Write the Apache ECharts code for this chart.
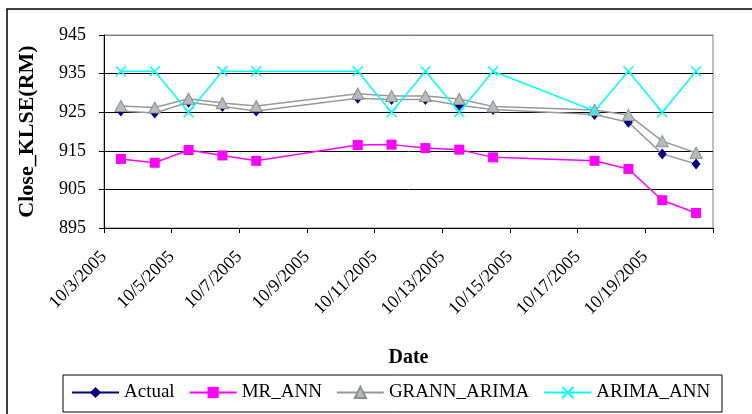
<!DOCTYPE html>
<html><head><meta charset="utf-8">
<script src="https://cdn.jsdelivr.net/npm/echarts@6/dist/echarts.min.js"></script>
<style>html,body{margin:0;padding:0;background:#fff}#c{width:752px;height:414px}</style>
</head><body><div id="c"></div>
<script>
const dates = ['2005-10-03','2005-10-04','2005-10-05','2005-10-06','2005-10-07',
  '2005-10-10','2005-10-11','2005-10-12','2005-10-13','2005-10-14',
  '2005-10-17','2005-10-18','2005-10-19','2005-10-20'];
const tickLabels = ['10/3/2005','10/5/2005','10/7/2005','10/9/2005','10/11/2005',
  '10/13/2005','10/15/2005','10/17/2005','10/19/2005',''];
const yTicks = [895, 905, 915, 925, 935, 945];
const actual     = [925.3, 924.8, 927.6, 926.5, 925.3, 928.6, 928.3, 928.3, 926.8, 925.7, 924.4, 922.4, 914.2, 911.6];
const mrAnn      = [912.9, 911.9, 915.2, 913.8, 912.4, 916.5, 916.6, 915.7, 915.3, 913.3, 912.4, 910.3, 902.2, 898.9];
const grannArima = [926.6, 926.2, 928.5, 927.4, 926.6, 929.8, 929.2, 929.2, 928.4, 926.5, 925.6, 924.3, 917.5, 914.5];
const arimaAnn   = [935.6, 935.6, 925.0, 935.6, 935.6, 935.6, 925.0, 935.6, 925.0, 935.6, 925.3, 935.6, 925.0, 935.6];

const startDate = Date.UTC(2005, 9, 3);
function dayPos(d) {
  const p = d.split('-').map(Number);
  return (Date.UTC(p[0], p[1] - 1, p[2]) - startDate) / 86400000 + 0.5; // points sit between tick marks
}
function pairs(vals) { return dates.map((d, i) => [dayPos(d), vals[i]]); }

const FONT = "'Liberation Serif','Times New Roman',serif";
const chart = echarts.init(document.getElementById('c'), null, {renderer: 'canvas'});
chart.setOption({
  animation: false,
  backgroundColor: '#ffffff',
  textStyle: {fontFamily: FONT, color: '#000'},
  graphic: [
    {type: 'rect', shape: {x: 7, y: 9, width: 800, height: 500}, style: {fill: 'none', stroke: '#000', lineWidth: 1.5}, silent: true},
    {type: 'rect', shape: {x: 63, y: 375, width: 659, height: 37}, style: {fill: 'none', stroke: '#000', lineWidth: 1}, silent: true}
  ],
  grid: {left: 104, top: 35, width: 609, height: 193, show: true, borderColor: '#808080', borderWidth: 1, backgroundColor: '#fff'},
  legend: {
    left: 71, top: 383, padding: 0, itemGap: 14, itemWidth: 47, itemHeight: 14,
    textStyle: {fontFamily: FONT, fontSize: 19, color: '#000'},
    data: [
      {name: 'Actual', lineStyle: {color: '#000080'}},
      {name: 'MR_ANN'}, {name: 'GRANN_ARIMA'}, {name: 'ARIMA_ANN'}
    ]
  },
  xAxis: {
    type: 'value', min: 0, max: 18, interval: 2,
    name: 'Date', nameLocation: 'middle', nameGap: 120,
    nameTextStyle: {fontFamily: FONT, fontSize: 20, fontWeight: 'bold', color: '#000'},
    axisLine: {lineStyle: {color: '#000', width: 1}},
    axisTick: {show: true, length: 5, lineStyle: {color: '#000'}},
    splitLine: {show: false},
    axisLabel: {
      rotate: 45, margin: 26, fontFamily: FONT, fontSize: 18, color: '#000',
      showMinLabel: true, showMaxLabel: true,
      formatter: v => tickLabels[Math.round(v / 2)] || ''
    }
  },
  yAxis: {
    type: 'value', min: 895, max: 945, interval: 10,
    name: 'Close_KLSE(RM)', nameLocation: 'middle', nameGap: 66,
    nameTextStyle: {fontFamily: FONT, fontSize: 22, fontWeight: 'bold', color: '#000'},
    axisLine: {show: true, lineStyle: {color: '#000', width: 1}},
    axisTick: {show: true, length: 5, lineStyle: {color: '#000'}},
    splitLine: {show: true, lineStyle: {color: ['#000', '#000', '#000', '#000', '#000', '#808080'], width: 1}},
    axisLabel: {margin: 18, fontFamily: FONT, fontSize: 18, color: '#000',
      formatter: v => yTicks.indexOf(v) >= 0 ? String(v) : ''}
  },
  series: [
    {name: 'Actual', type: 'line', data: pairs(actual), symbol: 'diamond', symbolSize: [9, 11],
      lineStyle: {color: '#999999', width: 1.5}, itemStyle: {color: '#000080'}},
    {name: 'MR_ANN', type: 'line', data: pairs(mrAnn), symbol: 'rect', symbolSize: 10,
      lineStyle: {color: '#ff00ff', width: 1.5}, itemStyle: {color: '#ff00ff'}},
    {name: 'GRANN_ARIMA', type: 'line', data: pairs(grannArima), symbol: 'triangle', symbolSize: [12, 11],
      lineStyle: {color: '#999999', width: 1.5}, itemStyle: {color: '#b4bcbc', borderColor: '#8a9090', borderWidth: 1}},
    {name: 'ARIMA_ANN', type: 'line', data: pairs(arimaAnn), symbol: 'path://M0,0L10,10M10,0L0,10', symbolSize: 10,
      lineStyle: {color: '#00ffff', width: 1.5}, itemStyle: {color: '#00ffff', borderColor: '#00ffff', borderWidth: 1.5}}
  ]
});
</script>
</body></html>
